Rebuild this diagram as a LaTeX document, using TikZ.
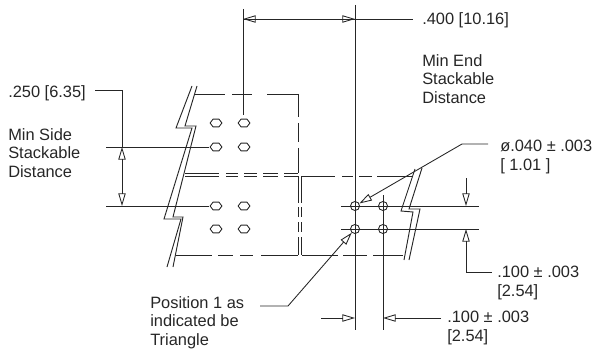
\documentclass[tikz,border=0pt]{standalone}
\usepackage{fontspec}
\setmainfont{Liberation Sans}
\usepackage{tikz}
\usetikzlibrary{arrows.meta, shapes.geometric}
\tikzset{
	dimline/.style = {line width = 0.65pt, black!85},
	dimtip/.style = {-{Triangle[open, length = 9.5pt, width = 5.5pt]}, line width = 0.65pt, black!85},
	partline/.style = {line width = 0.7pt, black!85},
	hole/.style = {draw = black!85, regular polygon, regular polygon sides = 6, inner sep = 0pt, line width = 0.65pt, xscale = 1.3, minimum size = 6.8pt},
	pin/.style = {draw = black!85, circle, minimum size = 6.8pt, inner sep = 0pt, line width = 0.65pt},
	label/.style = {font = \fontsize{12.3}{14}\selectfont, text = black!85, align = left, anchor = north west, inner sep = 0pt},
}
\begin{document}
\begin{tikzpicture}[x = 0.75pt, y = -0.75pt]
	\def\ya{123};
	\def\yb{147};
	\def\yc{206};
	\def\yd{229};
	\def\xa{216};
	\def\xb{244};
	\def\xc{355};
	\def\xd{383};
	\path [use as bounding box] (0,0) rectangle (592,349);
	
	% holes on the left part
	\foreach \x/\n in {\xa/a, \xb/b} {
		\node [hole] (rowa\n) at (\x,\ya) {};
		\node [hole] (rowb\n) at (\x,\yb) {};
		\node [hole] (rowc\n) at (\x,\yc) {};
		\node [hole] (rowd\n) at (\x,\yd) {};
	}
	
	% pins on the right part
	\node [pin] (pina) at (\xc,\yc) {};
	\node [pin] (pinb) at (\xd,\yc) {};
	\node [pin] (pinc) at (\xc,\yd) {};
	\node [pin] (pind) at (\xd,\yd) {};
	
	% break lines
	\draw [partline] (192,86) -- (176,128) -- (192,128) -- (164,219) -- (181,219) -- (167,267);
	\draw [partline] (197,86) -- (185,126) -- (196,126) -- (173,217) -- (183,217) -- (173,267);
	\draw [partline] (415,169) -- (401,211) -- (413,212) -- (404,260);
	\draw [partline] (422,168) -- (409,209) -- (420,209) -- (409,260);
	
	% outlines, piece by piece
	\foreach \a/\b in {195/225, 232/252, 267/298}
		\draw [partline] (\a,94) -- (\b,94);
	\foreach \a/\b in {185/219, 226/238, 244/257, 263/278, 284/298}
		\draw [partline] (\a,173) -- (\b,173);
	\foreach \a/\b in {185/219, 226/238, 244/257, 263/278, 284/298}
		\draw [partline] (\a,176) -- (\b,176);
	\foreach \a/\b in {176/212, 218/233, 240/253, 261/298}
		\draw [partline] (\a,255) -- (\b,255);
	\foreach \a/\b in {301/335, 342/353, 359/372, 377/413}
		\draw [partline] (\a,176) -- (\b,176);
	\foreach \a/\b in {302/338, 343/367, 373/403}
		\draw [partline] (\a,255) -- (\b,255);
	\foreach \a/\b in {94/117, 123/142, 148/173}
		\draw [partline] (298,\a) -- (298,\b);
	\foreach \a/\b in {176/203, 207/217, 222/232, 237/255}
		\draw [partline] (298,\a) -- (298,\b);
	\foreach \a/\b in {176/203, 207/217, 222/232, 237/255}
		\draw [partline] (301,\a) -- (301,\b);
	
	% labels
	\node [label] (toplabel) at (422,12) {.400 [10.16]};
	\node [label] (endlabel) at (422,54) {Min End\\Stackable\\Distance};
	\node [label] (sidelabel) at (8,85) {.250 [6.35]};
	\node [label] (minlabel) at (8,128) {Min Side\\Stackable\\Distance};
	\node [label] (dialabel) at (500,140) {ø.040 ± .003\\{[} 1.01 {]}};
	\node [label] (pitchv) at (497,266) {.100 ± .003\\{[}2.54{]}};
	\node [label] (pitchh) at (447,311) {.100 ± .003\\{[}2.54{]}};
	\node [label] (poslabel) at (150,296) {Position 1 as\\indicated be\\Triangle};
	
	% free ends of the dimension lines
	\coordinate (topa) at (243,9);
	\coordinate (topb) at (243,115);
	\coordinate (mida) at (\xc,5);
	\coordinate (midb) at (\xc,330);
	\coordinate (lowa) at (\xd,195);
	\coordinate (lowb) at (\xd,330);
	\coordinate (sidea) at (106,\yb);
	\coordinate (sideb) at (106,\yc);
	\coordinate (rowe) at (341,\yc);
	\coordinate (rowf) at (479,\yc);
	\coordinate (rowg) at (341,\yd);
	\coordinate (rowh) at (479,\yd);
	
	\draw [dimline] (topa) -- (topb);
	\draw [dimline] (mida) -- (midb);
	\draw [dimline] (lowa) -- (lowb);
	\draw [dimline] (sidea) -- (rowba.west);
	\draw [dimline] (sideb) -- (rowca.west);
	\draw [dimline] (rowe) -- (rowf);
	\draw [dimline] (rowg) -- (rowh);
	
	% dimension arrows
	\draw [dimtip] (\xc,19) -- (243,19);
	\draw [dimtip] (243,19) -- (\xc,19);
	\draw [dimline] (\xc,19) -- (413,19);
	\draw [dimline] (95,90) -- (122,90) -- (122,147);
	\draw [dimtip] (122,176) -- (122,\yb);
	\draw [dimtip] (122,176) -- (122,\yc);
	\draw [dimtip] (466,178) -- (466,\yc);
	\draw [dimtip] (466,272) -- (466,\yd);
	\draw [dimline] (466,272) -- (492,272);
	\draw [dimtip] (321,318) -- (\xc,318);
	\draw [dimtip] (441,318) -- (\xd,318);
	
	% leaders to the pins
	\draw [dimtip] (488,144) -- (462,144) -- (pina);
	\draw [dimtip] (260,306) -- (288,306) -- (pinc);
\end{tikzpicture}
\end{document}
